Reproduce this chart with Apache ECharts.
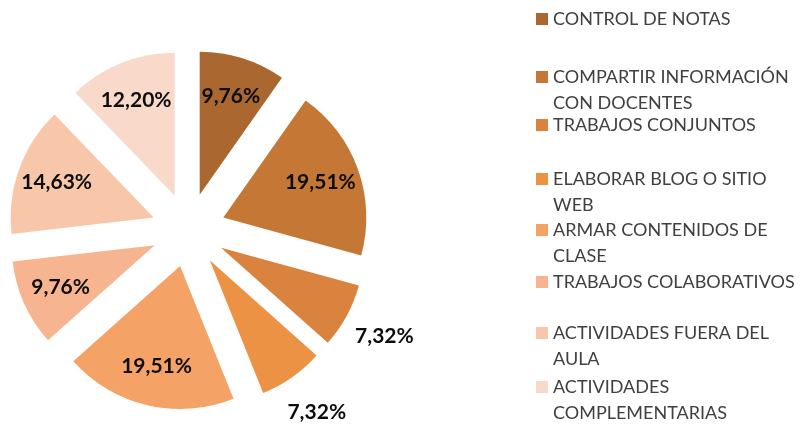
<!DOCTYPE html>
<html>
<head>
<meta charset="utf-8">
<script src="https://cdn.jsdelivr.net/npm/echarts@6/dist/echarts.min.js"></script>
<style>
html,body{margin:0;padding:0;background:#fff;}
#chart{width:807px;height:425px;}
</style>
</head>
<body>
<div id="chart"></div>
<script>
// ---- data ----
const categories = [
  'CONTROL DE NOTAS',
  'COMPARTIR INFORMACIÓN CON DOCENTES',
  'TRABAJOS CONJUNTOS',
  'ELABORAR BLOG O SITIO WEB',
  'ARMAR CONTENIDOS DE CLASE',
  'TRABAJOS COLABORATIVOS',
  'ACTIVIDADES FUERA DEL AULA',
  'ACTIVIDADES COMPLEMENTARIAS'
];
const values = [9.76, 19.51, 7.32, 7.32, 19.51, 9.76, 14.63, 12.20];
const legendLines = [
  ['CONTROL DE NOTAS'],
  ['COMPARTIR INFORMACIÓN', 'CON DOCENTES'],
  ['TRABAJOS CONJUNTOS'],
  ['ELABORAR BLOG O SITIO', 'WEB'],
  ['ARMAR CONTENIDOS DE', 'CLASE'],
  ['TRABAJOS COLABORATIVOS'],
  ['ACTIVIDADES FUERA DEL', 'AULA'],
  ['ACTIVIDADES', 'COMPLEMENTARIAS']
];
const colors = ['#AA6830', '#C57736', '#D9833F', '#EC9244', '#F4A265', '#F6B590', '#F8C7AA', '#F9D9CA'];

// ---- layout ----
const center = [188.5, 230];
const R = 143;
const offset = 37;
const legendIconCenters = [19, 77, 125, 179, 230, 282, 333, 387];
const LH = 26;

const fmt = v => v.toFixed(2).replace('.', ',') + '%';

const labelStyle = {
  fontFamily: 'Lato',
  fontWeight: 'bold',
  fontSize: 21,
  color: '#0d0d0d'
};

function pieBase(radius) {
  return {
    type: 'pie',
    center: center,
    radius: radius,
    startAngle: 90,
    clockwise: true,
    selectedMode: 'multiple',
    selectedOffset: offset,
    avoidLabelOverlap: false,
    animation: false,
    emphasis: { scale: false, disabled: true },
    labelLine: { show: false }
  };
}

const mainSeries = Object.assign(pieBase([0, R]), {
  data: categories.map((c, i) => ({
    name: c, value: values[i], selected: true,
    itemStyle: { color: colors[i] }
  })),
  label: { show: false }
});

const innerLabels = Object.assign(pieBase([R * 0.4, R]), {
  silent: true,
  data: categories.map((c, i) => ({
    name: c, value: values[i], selected: true,
    itemStyle: { color: 'rgba(0,0,0,0)' },
    label: { show: values[i] >= 8 }
  })),
  label: Object.assign({ position: 'inside', formatter: p => fmt(p.value) }, labelStyle)
});

const outerLabels = Object.assign(pieBase([R, R + 80]), {
  silent: true,
  data: categories.map((c, i) => ({
    name: c, value: values[i], selected: true,
    itemStyle: { color: 'rgba(0,0,0,0)' },
    label: { show: values[i] < 8 }
  })),
  label: Object.assign({ position: 'inside', formatter: p => fmt(p.value) }, labelStyle)
});

const legends = categories.map((c, i) => {
  const two = legendLines[i].length > 1;
  return {
    orient: 'vertical',
    left: 536,
    top: legendIconCenters[i] - (two ? LH * 1.5 : LH / 2),
    padding: 0,
    itemWidth: 12,
    itemHeight: 12,
    itemGap: 0,
    icon: 'rect',
    selectedMode: false,
    data: [c],
    // two-line entries: a blank line above keeps the marker beside the first line
    formatter: () => (two ? ' \n' : '') + legendLines[i].join('\n'),
    textStyle: {
      fontFamily: 'Lato',
      fontSize: 18,
      color: '#404040',
      lineHeight: LH
    }
  };
});

const chart = echarts.init(document.getElementById('chart'), null, { renderer: 'canvas' });
chart.setOption({
  backgroundColor: '#ffffff',
  color: colors,
  animation: false,
  legend: legends,
  series: [mainSeries, innerLabels, outerLabels]
});
</script>
</body>
</html>
